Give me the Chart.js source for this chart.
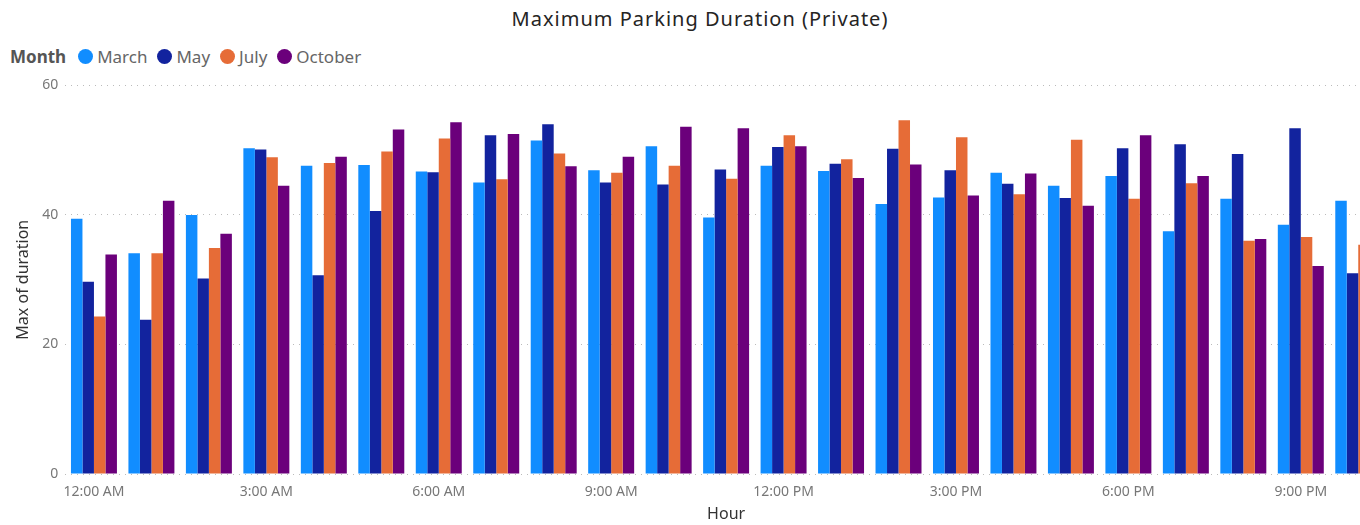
<!DOCTYPE html>
<html>
<head>
<meta charset="utf-8">
<script src="https://cdn.jsdelivr.net/npm/chart.js@4"></script>
<style>
  body { margin: 0; background: #fff; width: 1360px; height: 525px; overflow: hidden; position: relative; font-family: "Noto Sans", sans-serif; }
  #title { position: absolute; top: 5px; left: 0; width: 1400px; text-align: center; font-size: 20px; letter-spacing: 1px; color: #252423; }
  #legend { position: absolute; top: 45px; left: 10px; font-size: 17px; color: #666; display: flex; align-items: center; }
  #legend b { color: #555; margin-right: 12px; }
  #legend span.item { display: flex; align-items: center; margin-right: 10px; }
  #legend i { display: inline-block; width: 15px; height: 15px; border-radius: 50%; margin-right: 4px; }
  #wrap { position: absolute; top: 70px; left: 0; width: 1360px; height: 455px; overflow: hidden; }
  #box { width: 1397px; height: 454px; }
</style>
</head>
<body>
<div id="title">Maximum Parking Duration (Private)</div>
<div id="legend"><b>Month</b></div>
<div id="wrap"><div id="box"><canvas id="bar-chart"></canvas></div></div>
<script>
var hours = ["12:00 AM", "1:00 AM", "2:00 AM", "3:00 AM", "4:00 AM", "5:00 AM", "6:00 AM", "7:00 AM",
  "8:00 AM", "9:00 AM", "10:00 AM", "11:00 AM", "12:00 PM", "1:00 PM", "2:00 PM", "3:00 PM",
  "4:00 PM", "5:00 PM", "6:00 PM", "7:00 PM", "8:00 PM", "9:00 PM", "10:00 PM"];
var months = ["March", "May", "July", "October"];
var colors = ["#118DFF", "#12239E", "#E66C37", "#6B007B"];
var march = [39.4, 34.1, 40.0, 50.3, 47.6, 47.7, 46.7, 45.0, 51.5, 46.9, 50.6, 39.6, 47.6, 46.8, 41.7, 42.7, 46.5, 44.5, 46.0, 37.5, 42.5, 38.5, 42.2];
var may = [29.7, 23.8, 30.2, 50.1, 30.7, 40.6, 46.6, 52.3, 54.0, 45.0, 44.7, 47.0, 50.5, 47.9, 50.2, 46.9, 44.8, 42.6, 50.3, 50.9, 49.4, 53.4, 31.0];
var july = [24.3, 34.1, 34.9, 48.9, 48.0, 49.8, 51.8, 45.5, 49.5, 46.5, 47.6, 45.6, 52.3, 48.6, 54.6, 52.0, 43.2, 51.6, 42.5, 44.9, 36.0, 36.6, 35.4];
var october = [33.9, 42.2, 37.1, 44.5, 49.0, 53.2, 54.3, 52.5, 47.5, 49.0, 53.6, 53.4, 50.6, 45.7, 47.8, 43.0, 46.4, 41.4, 52.3, 46.0, 36.3, 32.1, null];
var yTicks = [0, 20, 40, 60];

var series = [march, may, july, october];

// legend as html, same look as power bi
var legend = document.getElementById("legend");
months.forEach(function (m, i) {
  var s = document.createElement("span");
  s.className = "item";
  s.innerHTML = '<i style="background:' + colors[i] + '"></i>' + m;
  legend.appendChild(s);
});

new Chart(document.getElementById("bar-chart"), {
  type: 'bar',
  data: {
    labels: hours,
    datasets: months.map(function (m, i) {
      return {
        label: m,
        data: series[i],
        backgroundColor: colors[i],
        barPercentage: 1.0,
        categoryPercentage: 0.8
      };
    })
  },
  options: {
    responsive: true,
    maintainAspectRatio: false,
    animation: false,
    layout: { padding: { top: 10, left: 14, right: 10, bottom: 0 } },
    plugins: {
      legend: { display: false },
      tooltip: { enabled: false }
    },
    scales: {
      x: {
        grid: { display: false },
        border: { display: false },
        ticks: {
          autoSkip: false,
          maxRotation: 0,
          color: '#777',
          font: { family: 'Noto Sans', size: 14 },
          padding: 2,
          callback: function (v, i) { return i % 3 === 0 ? hours[i] : ''; }
        },
        title: { display: true, text: 'Hour', color: '#333', font: { family: 'Noto Sans', size: 16 }, padding: { top: 2, bottom: 0 } }
      },
      y: {
        min: 0,
        max: 60,
        afterBuildTicks: function (axis) { axis.ticks = yTicks.map(function (v) { return { value: v }; }); },
        border: { display: false, dash: [1, 5] },
        grid: { color: '#bbb', lineWidth: 1, drawTicks: false },
        ticks: { color: '#777', font: { family: 'Noto Sans', size: 14 }, padding: 7 },
        title: { display: true, text: 'Max of duration', color: '#333', font: { family: 'Noto Sans', size: 16 }, padding: { top: 0, bottom: 2 } }
      }
    }
  }
});
</script>
</body>
</html>
